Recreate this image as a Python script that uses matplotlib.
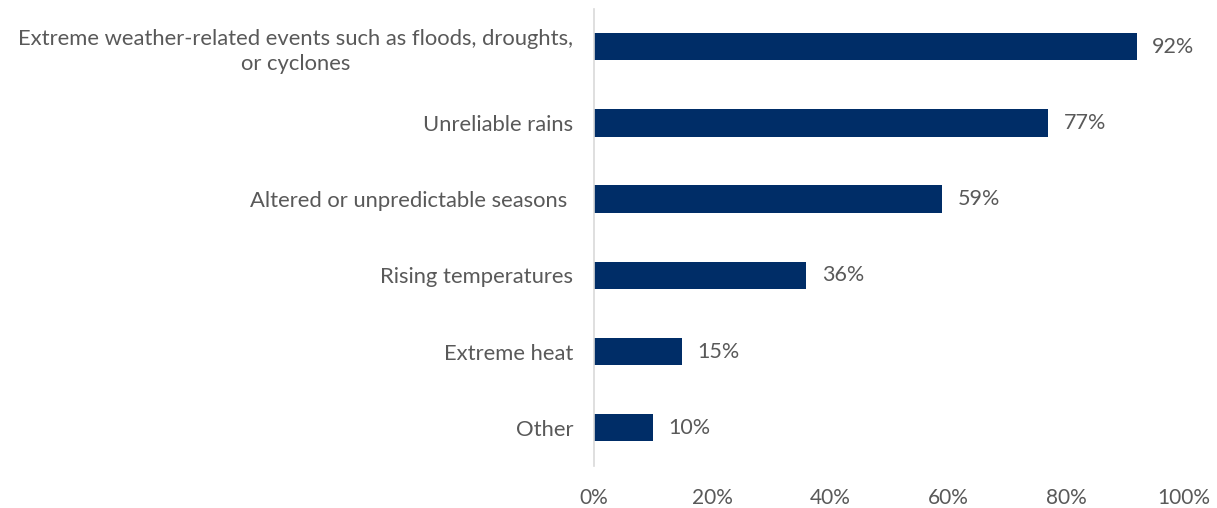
import matplotlib.pyplot as plt
from matplotlib.ticker import PercentFormatter

plt.rcParams['font.family'] = ['Lato', 'DejaVu Sans']

categories = [
    "Extreme weather-related events such as floods, droughts,\nor cyclones",
    "Unreliable rains",
    "Altered or unpredictable seasons ",
    "Rising temperatures",
    "Extreme heat",
    "Other",
]
values = [92, 77, 59, 36, 15, 10]
xticks = [0, 20, 40, 60, 80, 100]

text_color = "#595959"
bar_color = "#002D67"

fig = plt.figure(figsize=(12.17, 5.08), dpi=100)
ax = fig.add_axes([0.488, 0.083, 0.485, 0.90])

pos = list(range(len(categories)))[::-1]
ax.barh(pos, values, height=0.36, color=bar_color)

for y, v in zip(pos, values):
    ax.text(v + 2.6, y, f"{v}%", va="center", ha="left",
            fontsize=15.5, color=text_color)

ax.set_xlim(0, 100)
ax.set_ylim(-0.5, 5.5)
ax.set_yticks(pos)
ax.set_yticklabels(categories, fontsize=15.8, color=text_color,
                   multialignment="center", linespacing=1.35)
ax.set_xticks(xticks)
ax.xaxis.set_major_formatter(PercentFormatter(decimals=0))
ax.tick_params(axis="x", length=0, pad=16, labelsize=15, labelcolor=text_color)
ax.tick_params(axis="y", length=0, pad=15)

for side in ["top", "right", "bottom"]:
    ax.spines[side].set_visible(False)
ax.spines["left"].set_color("#D9D9D9")
ax.spines["left"].set_linewidth(1.2)

fig.savefig("out.png", dpi=100)
